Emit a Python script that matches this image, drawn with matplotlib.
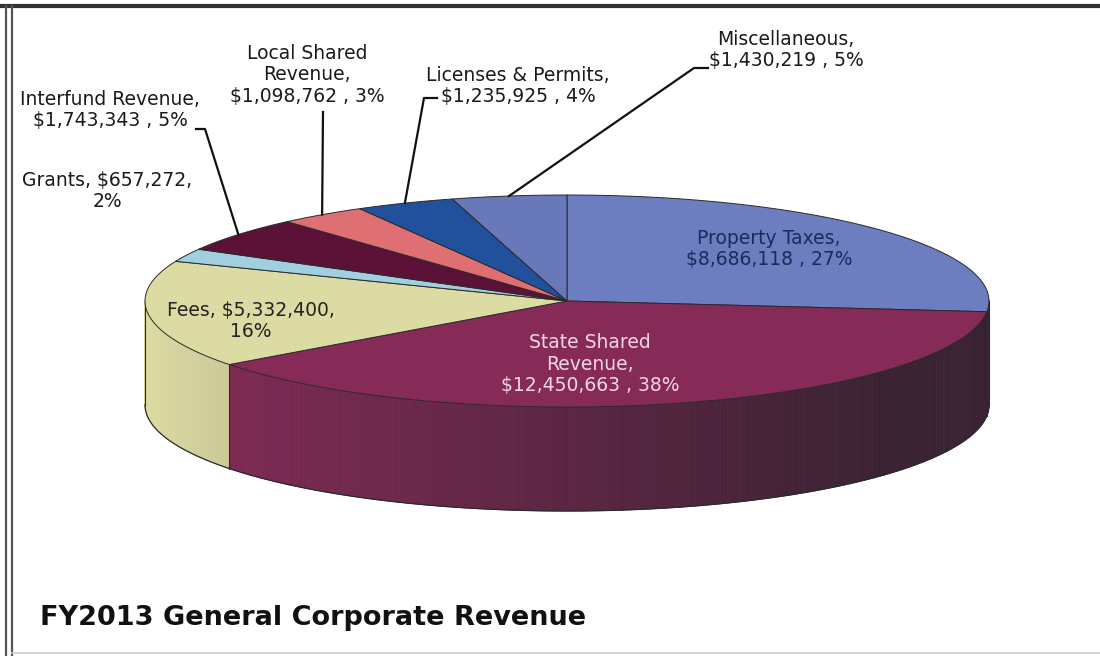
import numpy as np
import matplotlib
matplotlib.use("Agg")
import matplotlib.pyplot as plt
from matplotlib.collections import PolyCollection
from matplotlib.colors import to_rgb

# FY2013 general corporate revenue by source
categories = ["Property Taxes", "State Shared Revenue", "Fees", "Grants",
              "Interfund Revenue", "Local Shared Revenue", "Licenses & Permits",
              "Miscellaneous"]
amounts = [8686118, 12450663, 5332400, 657272, 1743343, 1098762, 1235925, 1430219]
pct_shown = [27, 38, 16, 2, 5, 3, 4, 5]

label_text = [
    "Property Taxes,\n$8,686,118 , 27%",
    "State Shared\nRevenue,\n$12,450,663 , 38%",
    "Fees, $5,332,400,\n16%",
    "Grants, $657,272,\n2%",
    "Interfund Revenue,\n$1,743,343 , 5%",
    "Local Shared\nRevenue,\n$1,098,762 , 3%",
    "Licenses & Permits,\n$1,235,925 , 4%",
    "Miscellaneous,\n$1,430,219 , 5%",
]

top_colors = ["#6c7ec0", "#862b58", "#dcdba3", "#a0d0e0",
              "#5b1236", "#de6f72", "#21509c", "#6878b8"]
shadow = np.array(to_rgb("#30212d"))

# ellipse geometry (pixels, y down)
cx, cy = 567, 301
rx, ry = 422, 106
depth = 104


def pt(theta_deg):
    t = np.radians(theta_deg)
    return cx + rx * np.cos(t), cy - ry * np.sin(t)


vals = np.array(amounts, dtype=float)
frac = vals / vals.sum()
cum = np.concatenate([[0], np.cumsum(frac)])
# clockwise from 12 o'clock
start_ang = 90 - 360 * cum[:-1]
end_ang = 90 - 360 * cum[1:]

fig = plt.figure(figsize=(11, 6.56), dpi=100)
ax = fig.add_axes([0, 0, 1, 1])
ax.set_xlim(0, 1100)
ax.set_ylim(656, 0)
ax.axis("off")

# side walls, only the front half (sin < 0) is visible
side_polys, side_cols = [], []
for i in range(len(vals)):
    a1, a2 = end_ang[i], start_ang[i]
    steps = np.linspace(a1, a2, max(int((a2 - a1) * 2), 2))
    base = np.array(to_rgb(top_colors[i]))
    for t0, t1 in zip(steps[:-1], steps[1:]):
        tm = (t0 + t1) / 2
        if np.sin(np.radians(tm)) >= 0:
            continue
        x0, y0 = pt(t0)
        x1, y1 = pt(t1)
        side_polys.append([(x0, y0), (x1, y1), (x1, y1 + depth), (x0, y0 + depth)])
        # light from the left: wall gets darker towards the right
        m = np.clip(0.5 + 0.5 * np.cos(np.radians(tm)), 0, 0.9)
        side_cols.append(base * (1 - m) + shadow * m)
ax.add_collection(PolyCollection(side_polys, facecolors=side_cols,
                                 edgecolors=side_cols, linewidths=0.6, zorder=1))

# outline of the wall: bottom arc, ends and slice seams on the front
tt = np.linspace(180, 360, 200)
bx, by = pt(tt)
ax.plot(bx, by + depth, color="#2a2a2a", lw=0.9, zorder=2)
for t in [180, 360] + [a % 360 for a in start_ang]:
    if 180 <= t <= 360:
        x, y = pt(t)
        ax.plot([x, x], [y, y + depth], color="#2a2a2a", lw=0.8, zorder=2)

# top faces
for i in range(len(vals)):
    tt = np.linspace(start_ang[i], end_ang[i], 80)
    xs, ys = pt(tt)
    poly = np.column_stack([np.r_[cx, xs], np.r_[cy, ys]])
    ax.fill(poly[:, 0], poly[:, 1], facecolor=top_colors[i],
            edgecolor="#2a2a2a", lw=0.7, zorder=3)

# labels drawn inside the pie
ax.text(769, 249, label_text[0], ha="center", va="center", fontsize=13.5,
        color="#1c2a5c", zorder=5, linespacing=1.15)
ax.text(590, 364, label_text[1], ha="center", va="center", fontsize=13.5,
        color="#f3d6e4", zorder=5, linespacing=1.15)
ax.text(251, 321, label_text[2], ha="center", va="center", fontsize=13.5,
        color="#222222", zorder=5, linespacing=1.15)

# outside labels with leader lines to the slice middle
mid_ang = (start_ang + end_ang) / 2
ax.text(107, 191, label_text[3], ha="center", va="center", fontsize=13.5,
        color="#1a1a1a", linespacing=1.15)
outside = {
    4: ((110, 110), [(196, 129), (205, 129)]),
    5: ((307, 75), [(323, 112)]),
    6: ((518, 86), [(437, 98), (424, 98)]),
    7: ((786, 50), [(708, 68), (694, 68)]),
}
for i, (xy, path) in outside.items():
    ax.text(xy[0], xy[1], label_text[i], ha="center", va="center",
            fontsize=13.5, color="#1a1a1a", linespacing=1.15)
    ex, ey = pt(mid_ang[i])
    px = [p[0] for p in path] + [ex]
    py = [p[1] for p in path] + [ey]
    ax.plot(px, py, color="#111111", lw=1.6, zorder=4)

ax.text(40, 625, "FY2013 General Corporate Revenue", ha="left",
        va="baseline", fontsize=19.5, fontweight="bold", color="#111111")

# border
ax.plot([0, 1100], [6, 6], color="#333333", lw=3)
ax.plot([6, 6], [6, 656], color="#555555", lw=1.6)
ax.plot([12, 12], [6, 656], color="#555555", lw=1.6)
ax.plot([12, 1100], [653, 653], color="#cccccc", lw=1.2)

fig.savefig("out.png", dpi=100)
